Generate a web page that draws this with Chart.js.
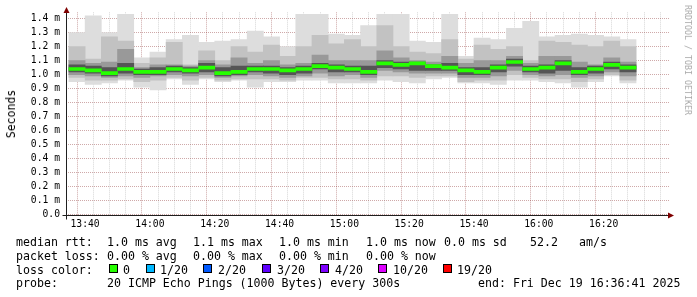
<!DOCTYPE html>
<html>
<head>
<meta charset="utf-8">
<script src="https://cdn.jsdelivr.net/npm/chart.js@4.4.1/dist/chart.umd.min.js"></script>
<style>
  html, body { margin: 0; padding: 0; background: #fff; }
  #wrap { position: relative; width: 697px; height: 297px; overflow: hidden; font-family: "DejaVu Sans Mono", monospace; color: #000; }
  #wrap canvas { position: absolute; left: 0; top: 0; }
  .t { position: absolute; white-space: pre; font-size: 11.6px; line-height: 14px; }
  .box { position: absolute; width: 7px; height: 7px; border: 1px solid #000; top: 264px; }
  .rot { position: absolute; white-space: pre; transform: translate(-50%, -50%) rotate(-90deg); }
</style>
</head>
<body>
<div id="wrap">
  <canvas id="chart" width="697" height="297"></canvas>

  <div class="rot" style="left:11px; top:114px; font-size:11.5px;">Seconds</div>
  <div class="rot" style="left:688px; top:60px; font-size:8.3px; color:#aaa; transform: translate(-50%, -50%) rotate(90deg);">RRDTOOL / TOBI OETIKER</div>

  <div class="t" style="left:16px; top:235px;">median rtt:</div>
  <div class="t" style="left:107px; top:235px;">1.0 ms avg</div>
  <div class="t" style="left:193px; top:235px;">1.1 ms max</div>
  <div class="t" style="left:279px; top:235px;">1.0 ms min</div>
  <div class="t" style="left:366px; top:235px;">1.0 ms now</div>
  <div class="t" style="left:444px; top:235px;">0.0 ms sd</div>
  <div class="t" style="left:530px; top:235px;">52.2</div>
  <div class="t" style="left:579px; top:235px;">am/s</div>

  <div class="t" style="left:16px; top:248.5px;">packet loss:</div>
  <div class="t" style="left:107px; top:248.5px;">0.00 % avg</div>
  <div class="t" style="left:193px; top:248.5px;">0.00 % max</div>
  <div class="t" style="left:279px; top:248.5px;">0.00 % min</div>
  <div class="t" style="left:366px; top:248.5px;">0.00 % now</div>

  <div class="t" style="left:16px; top:262.5px;">loss color:</div>
  <div id="lossLegend"></div>

  <div class="t" style="left:16px; top:276px;">probe:</div>
  <div class="t" style="left:107px; top:276px;">20 ICMP Echo Pings (1000 Bytes) every 300s</div>
  <div class="t" style="left:478px; top:276px;">end: Fri Dec 19 16:36:41 2025</div>
</div>

<script>
// 5 minute bins (start time of each bin)
const binTimes = ["13:35", "13:40", "13:45", "13:50", "13:55", "14:00", "14:05", "14:10", "14:15",
  "14:20", "14:25", "14:30", "14:35", "14:40", "14:45", "14:50", "14:55", "15:00", "15:05",
  "15:10", "15:15", "15:20", "15:25", "15:30", "15:35", "15:40", "15:45", "15:50", "15:55",
  "16:00", "16:05", "16:10", "16:15", "16:20", "16:25"];

// rtt in ms, smoke layers from outside (min/max) to inside
const maxRtt = [1.30, 1.42, 1.30, 1.43, 1.12, 1.16, 1.25, 1.28, 1.23, 1.24, 1.25, 1.31, 1.27, 1.20, 1.43, 1.43, 1.29, 1.28,
  1.35, 1.43, 1.43, 1.24, 1.23, 1.43, 1.13, 1.26, 1.25, 1.33, 1.38, 1.27, 1.28, 1.29, 1.28, 1.27, 1.25];
const hi2 = [1.20, 1.11, 1.27, 1.24, 1.08, 1.12, 1.23, 1.07, 1.17, 1.10, 1.20, 1.16, 1.21, 1.13, 1.20, 1.28, 1.22, 1.25,
  1.20, 1.35, 1.20, 1.16, 1.15, 1.25, 1.11, 1.21, 1.18, 1.20, 1.10, 1.24, 1.23, 1.21, 1.20, 1.24, 1.20];
const hi3 = [1.10, 1.08, 1.09, 1.18, 1.05, 1.07, 1.07, 1.06, 1.10, 1.07, 1.12, 1.08, 1.10, 1.07, 1.08, 1.14, 1.10, 1.10,
  1.10, 1.17, 1.12, 1.10, 1.09, 1.13, 1.08, 1.10, 1.10, 1.13, 1.08, 1.13, 1.13, 1.09, 1.07, 1.12, 1.09];
const hi4 = [1.07, 1.06, 1.05, 1.08, 1.04, 1.05, 1.06, 1.05, 1.08, 1.05, 1.06, 1.06, 1.06, 1.05, 1.06, 1.08, 1.07, 1.06,
  1.06, 1.10, 1.09, 1.09, 1.07, 1.08, 1.05, 1.05, 1.07, 1.11, 1.06, 1.07, 1.10, 1.05, 1.06, 1.09, 1.07];
const medianRtt = [1.04, 1.03, 1.01, 1.04, 1.02, 1.02, 1.04, 1.03, 1.05, 1.01, 1.02, 1.04, 1.04, 1.03, 1.04, 1.06, 1.05, 1.04,
  1.02, 1.08, 1.07, 1.08, 1.06, 1.05, 1.03, 1.02, 1.05, 1.09, 1.04, 1.05, 1.08, 1.02, 1.04, 1.07, 1.05];
const lo4 = [1.02, 1.01, 0.99, 1.01, 1.00, 1.00, 1.02, 1.01, 1.02, 0.99, 1.00, 1.02, 1.01, 1.00, 1.01, 1.04, 1.02, 1.02,
  1.00, 1.05, 1.04, 1.03, 1.03, 1.03, 1.00, 1.00, 1.02, 1.06, 1.02, 1.01, 1.03, 1.00, 1.01, 1.04, 1.02];
const lo3 = [1.00, 0.99, 0.98, 0.99, 0.98, 0.99, 1.00, 0.99, 1.00, 0.98, 0.99, 1.00, 0.99, 0.98, 0.99, 1.01, 0.99, 1.00,
  0.98, 1.03, 1.02, 1.01, 1.01, 1.01, 0.98, 0.98, 0.99, 1.03, 1.00, 0.99, 1.00, 0.98, 0.99, 1.02, 0.99];
const lo2 = [0.98, 0.96, 0.96, 0.97, 0.95, 0.96, 0.98, 0.96, 0.98, 0.96, 0.97, 0.97, 0.97, 0.96, 0.98, 0.98, 0.97, 0.97,
  0.96, 0.99, 0.99, 0.98, 0.99, 0.99, 0.95, 0.96, 0.96, 1.00, 0.98, 0.97, 0.97, 0.95, 0.97, 1.00, 0.96];
const minRtt = [0.95, 0.93, 0.94, 0.96, 0.91, 0.89, 0.97, 0.93, 0.97, 0.95, 0.96, 0.91, 0.95, 0.95, 0.96, 0.96, 0.94, 0.94,
  0.94, 0.96, 0.95, 0.94, 0.97, 0.98, 0.94, 0.94, 0.93, 0.96, 0.96, 0.95, 0.94, 0.91, 0.95, 0.99, 0.94];

const yTicks = [0, 0.1, 0.2, 0.3, 0.4, 0.5, 0.6, 0.7, 0.8, 0.9, 1.0, 1.1, 1.2, 1.3, 1.4];
const lossLabels = ["0", "1/20", "2/20", "3/20", "4/20", "10/20", "19/20"];
const lossColors = ["#26ff00", "#00b8ff", "#0059ff", "#5e00ff", "#7e00ff", "#dd00ff", "#ff0000"];

// geometry of the rrd canvas
const X_MIN = 36 + 41 / 60;          // 13:36:41 in minutes after 13:00
const PX_PER_MIN = 10 / 3;
const X_MAX = X_MIN + 603 / PX_PER_MIN;
const Y_MAX = 1.445;
const Y_ZERO_PX = 214.6;
const Y_PX_PER_MS = 140;

const MAJOR = "rgba(130, 30, 30, 0.38)";
const MINOR = "rgba(140, 140, 140, 0.35)";

function toMin(t) {
    const [h, m] = t.split(":").map(Number);
    return (h - 13) * 60 + m;
}
function fmtTime(v) {
    const h = 13 + Math.floor(v / 60), m = v % 60;
    return h + ":" + String(m).padStart(2, "0");
}
function band(lo, hi) {
    return binTimes.map((t, i) => ({ x: toMin(t) + 2.5, y: [lo[i], hi[i]] }));
}

// loss color legend
const lossX = [[109, 123], [146, 160], [203, 218], [262, 277], [320, 335], [378, 393], [443, 457]];
const lossDiv = document.getElementById("lossLegend");
lossLabels.forEach((lbl, i) => {
    const b = document.createElement("div");
    b.className = "box";
    b.style.left = lossX[i][0] + "px";
    b.style.background = lossColors[i];
    lossDiv.appendChild(b);
    const t = document.createElement("div");
    t.className = "t";
    t.style.left = lossX[i][1] + "px";
    t.style.top = "262.5px";
    t.textContent = lbl;
    lossDiv.appendChild(t);
});

const barBase = { type: "bar", grouped: false, barPercentage: 1, categoryPercentage: 1, borderWidth: 0 };

// axes lines and arrows like rrdtool
const axisArrows = {
    id: "axisArrows",
    afterDraw(chart) {
        const ctx = chart.ctx, a = chart.chartArea;
        const ax = Math.floor(a.left) + 0.5;
        const ay = Math.floor(a.bottom) + 1.5;
        ctx.save();
        ctx.strokeStyle = "#1f1f1f";
        ctx.lineWidth = 1;
        ctx.beginPath();
        ctx.moveTo(ax - 4, ay); ctx.lineTo(a.right + 1, ay);
        ctx.moveTo(ax, ay + 4); ctx.lineTo(ax, 11);
        ctx.stroke();
        ctx.fillStyle = "#7f0000";
        ctx.beginPath();
        ctx.moveTo(ax, 7); ctx.lineTo(ax - 3, 13); ctx.lineTo(ax + 3, 13); ctx.closePath(); ctx.fill();
        ctx.beginPath();
        ctx.moveTo(a.right + 5, ay); ctx.lineTo(a.right - 1, ay - 3); ctx.lineTo(a.right - 1, ay + 3); ctx.closePath(); ctx.fill();
        ctx.restore();
    }
};

const tickFont = { family: "DejaVu Sans Mono", size: 9.7 };

new Chart(document.getElementById("chart"), {
    type: "bar",
    data: {
        datasets: [
            { ...barBase, data: band(minRtt, maxRtt), backgroundColor: "#dddddd", order: 5 },
            { ...barBase, data: band(lo2, hi2), backgroundColor: "#c2c2c2", order: 4 },
            { ...barBase, data: band(lo3, hi3), backgroundColor: "#999999", order: 3 },
            { ...barBase, data: band(lo4, hi4), backgroundColor: "#555555", order: 2 },
            { ...barBase, data: binTimes.map((t, i) => ({ x: toMin(t) + 2.5, y: [medianRtt[i] - 0.011, medianRtt[i] + 0.011] })),
              backgroundColor: "#26ff00", order: 0 }
        ]
    },
    options: {
        responsive: false,
        animation: false,
        devicePixelRatio: 1,
        layout: { padding: { top: Y_ZERO_PX - Y_MAX * Y_PX_PER_MS, right: 28, left: 0, bottom: 0 } },
        plugins: { legend: { display: false }, tooltip: { enabled: false } },
        scales: {
            x: {
                type: "linear",
                min: X_MIN,
                max: X_MAX,
                z: 1,
                afterBuildTicks: s => {
                    const t = [];
                    for (let v = 40; v <= 215; v += 5) t.push({ value: v });
                    s.ticks = t;
                },
                afterFit: s => { s.height = 297 - Y_ZERO_PX; },
                grid: { color: c => (c.tick && c.tick.value % 20 === 0) ? MAJOR : MINOR, lineWidth: 1, drawTicks: false },
                border: { display: false, dash: [1, 1] },
                ticks: {
                    autoSkip: false, maxRotation: 0, padding: 4, font: tickFont, color: "#000",
                    callback: v => v % 20 === 0 ? fmtTime(v) : ""
                }
            },
            y: {
                min: 0,
                max: Y_MAX,
                z: 1,
                afterBuildTicks: s => { s.ticks = yTicks.map(v => ({ value: v })); },
                afterFit: s => { s.width = 66; },
                grid: { color: MAJOR, lineWidth: 1, drawTicks: false },
                border: { display: false, dash: [1, 1] },
                ticks: {
                    autoSkip: false, padding: 6, font: tickFont, color: "#000",
                    callback: v => v === 0 ? "0.0" : v.toFixed(1) + " m"
                }
            }
        }
    },
    plugins: [axisArrows]
});
</script>
</body>
</html>
